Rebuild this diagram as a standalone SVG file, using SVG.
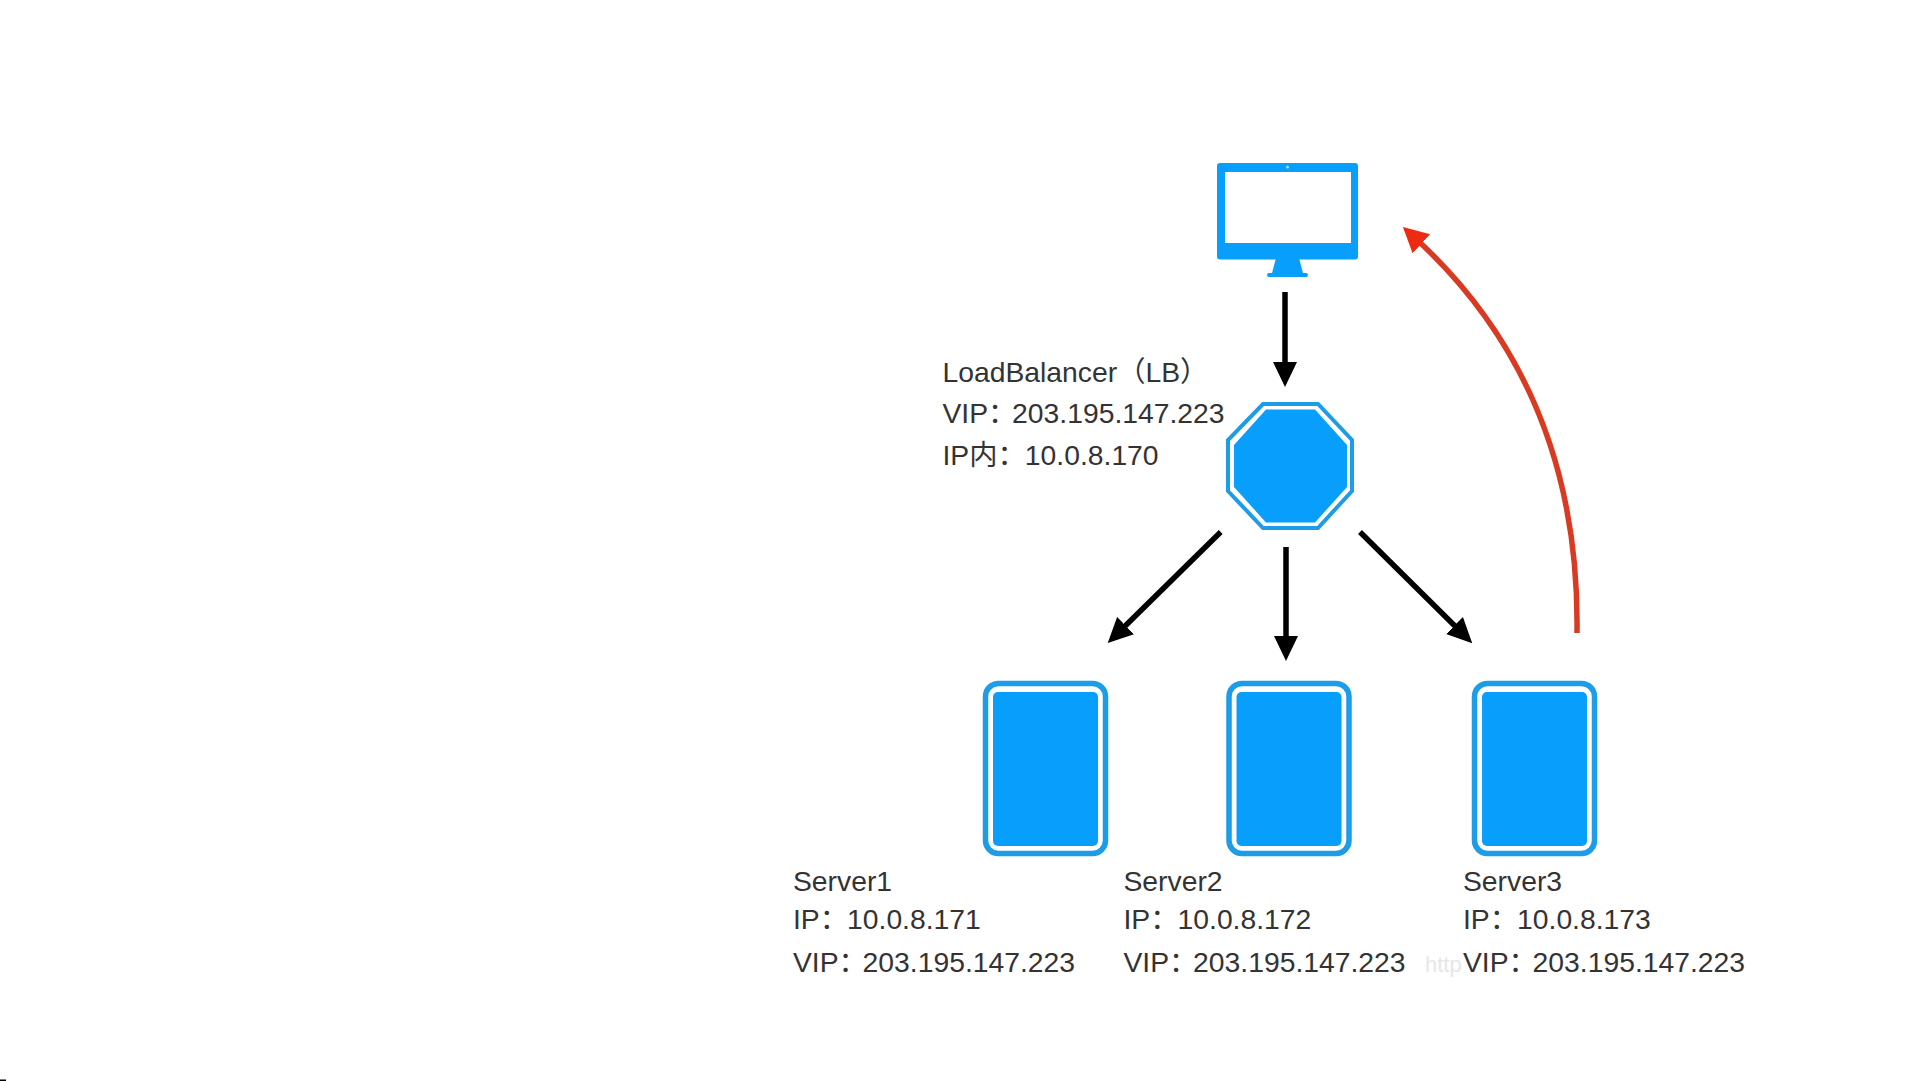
<svg xmlns="http://www.w3.org/2000/svg" width="1921" height="1081" viewBox="0 0 1921 1081">
<style>
.t{font-family:"Liberation Sans","Noto Sans CJK SC",sans-serif;font-size:28.3px;fill:#333}
.b{fill:#079ffb}
.ring{fill:none;stroke:#1d9ce8;stroke-width:5.5}
.c{fill:none;stroke:#000;stroke-width:5.5}
.wm{font-family:"Liberation Sans",sans-serif;font-size:22px;fill:#e6e6e6}
</style>
<defs>
<marker id="ah" markerUnits="userSpaceOnUse" markerWidth="26" markerHeight="26" refX="12" refY="13" orient="auto"><path d="M0 1L25 13L0 25Z" fill="#000"/></marker>
<marker id="ar" markerUnits="userSpaceOnUse" markerWidth="28" markerHeight="28" refX="10" refY="13" orient="auto"><path d="M0 0L25 13L0 26Z" fill="#ee2a10"/></marker>
</defs>
<rect width="1921" height="1081" fill="#fff"/>
<rect x="0" y="1079.500" width="6" height="1.500" fill="#000"/>
<text class="wm" x="1425" y="972">http</text>
<g id="client">
<path class="b" fill-rule="evenodd" d="M1220 163H1355a3 3 0 0 1 3 3V256.500a3 3 0 0 1-3 3H1220a3 3 0 0 1-3-3V166a3 3 0 0 1 3-3ZM1225 172V243H1351V172Z"/>
<path class="b" d="M1276 258H1299L1303 273H1306a2 2 0 0 1 0 4H1269a2 2 0 0 1 0-4H1272Z"/>
<circle cx="1287.500" cy="167" r="1.500" fill="#9fdcff"/>
</g>
<g id="lb">
<path class="ring" style="stroke-width:4" d="M1263 404H1318L1352 440V491L1318 528H1263L1228 491V440Z"/>
<path class="b" d="M1266 409.500H1315L1347 445V487L1315 522.500H1266L1234 487V445Z"/>
<text class="t" x="942.500" y="382">LoadBalancer（LB）</text>
<text class="t" x="942.500" y="423">VIP：<tspan dx="-4.300">203.195.147.223</tspan></text>
<text class="t" x="942.500" y="465">IP内：<tspan dx="-1">10.0.8.170</tspan></text>
</g>
<g id="server1">
<rect class="ring" x="985.500" y="683.500" width="120" height="170" rx="13"/>
<rect class="b" x="993" y="692" width="105" height="154" rx="5"/>
<text class="t" x="793" y="891">Server1</text>
<text class="t" x="793" y="929">IP：<tspan dx="-1">10.0.8.171</tspan></text>
<text class="t" x="793" y="972">VIP：<tspan dx="-4.300">203.195.147.223</tspan></text>
</g>
<g id="server2">
<rect class="ring" x="1229" y="683.500" width="120" height="170" rx="13"/>
<rect class="b" x="1236.500" y="692" width="105" height="154" rx="5"/>
<text class="t" x="1123.500" y="891">Server2</text>
<text class="t" x="1123.500" y="929">IP：<tspan dx="-1">10.0.8.172</tspan></text>
<text class="t" x="1123.500" y="972">VIP：<tspan dx="-4.300">203.195.147.223</tspan></text>
</g>
<g id="server3">
<rect class="ring" x="1474.500" y="683.500" width="120" height="170" rx="13"/>
<rect class="b" x="1482" y="692" width="105" height="154" rx="5"/>
<text class="t" x="1463" y="891">Server3</text>
<text class="t" x="1463" y="929">IP：<tspan dx="-1">10.0.8.173</tspan></text>
<text class="t" x="1463" y="972">VIP：<tspan dx="-4.300">203.195.147.223</tspan></text>
</g>
<g id="connectors">
<path class="c" marker-end="url(#ah)" d="M1285 292V374"/>
<path class="c" marker-end="url(#ah)" d="M1220.700 532L1117 634"/>
<path class="c" marker-end="url(#ah)" d="M1286 547V648"/>
<path class="c" marker-end="url(#ah)" d="M1360 532L1463 634"/>
<path d="M1577 633C1579 490 1538 350 1414 237" fill="none" stroke="#d93a22" stroke-width="5.500" marker-end="url(#ar)"/>
</g>
</svg>
